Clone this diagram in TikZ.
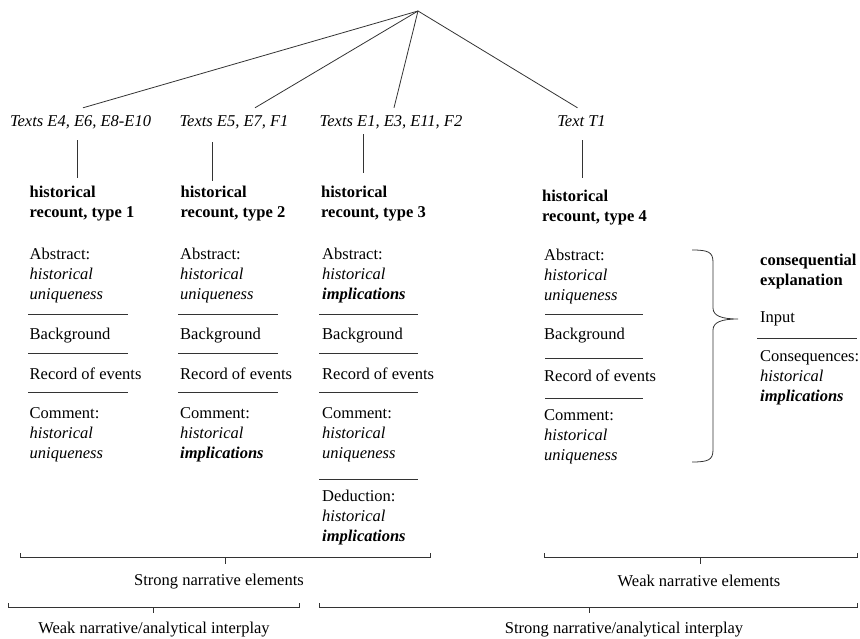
\documentclass[tikz,border=0pt]{standalone}
\usepackage{fontspec}
\setmainfont{Liberation Serif}
\begin{document}
\begin{tikzpicture}[x=1pt,y=-1pt,
  every node/.style={font=\fontsize{16.5}{20}\selectfont, inner sep=0pt},
  rule/.style={line width=0.8pt, draw=black!80},
  textlabel/.style={font=\fontsize{16.5}{20}\selectfont\itshape,
    text height=11pt, text depth=3pt, inner ysep=8pt, inner xsep=0pt},
  block/.style={anchor=north west, align=left},
  title/.style={block, font=\fontsize{16.5}{20}\selectfont\bfseries},
  caption/.style={anchor=center}]

\useasboundingbox (0,0) rectangle (860,639);

% root of the fan and the four text groups
\coordinate (apex) at (418,11);
\node[textlabel] (lbl1) at (80.5,123) {Texts E4, E6, E8-E10};
\node[textlabel] (lbl2) at (234,123) {Texts E5, E7, F1};
\node[textlabel] (lbl3) at (391,123) {Texts E1, E3, E11, F2};
\node[textlabel] (lbl4) at (581.5,123) {Text T1};

\draw[rule] (apex) -- ([xshift=2.5pt]lbl1.north);
\draw[rule] (apex) -- ([xshift=21pt]lbl2.north);
\draw[rule] (apex) -- ([xshift=3pt]lbl3.north);
\draw[rule] (apex) -- ([xshift=-4pt]lbl4.north);

\draw[rule] ([xshift=-3.5pt,yshift=-2pt]lbl1.south) -- ++(0,38);
\draw[rule] ([xshift=-22pt,yshift=-4pt]lbl2.south) -- ++(0,39);
\draw[rule] ([xshift=-28pt,yshift=4pt]lbl3.south) -- ++(0,39);
\draw[rule] ([xshift=0.5pt,yshift=-2pt]lbl4.south) -- ++(0,38);

% type 1
\node[title] (t1) at (29.5,185.5) {historical\\recount, type 1};
\node[block] (a1) at (29.5,247.5) {Abstract:\\\textit{historical}\\\textit{uniqueness}};
\draw[rule] (28,314) -- (128,314);
\node[block] (b1) at (29.5,327.5) {Background};
\draw[rule] (28,353) -- (128,353);
\node[block] (r1) at (29.5,367.5) {Record of events};
\draw[rule] (28,392) -- (128,392);
\node[block] (c1) at (29.5,407.5) {Comment:\\\textit{historical}\\\textit{uniqueness}};

% type 2
\node[title] (t2) at (180.5,185.5) {historical\\recount, type 2};
\node[block] (a2) at (180,247.5) {Abstract:\\\textit{historical}\\\textit{uniqueness}};
\draw[rule] (178,314) -- (278,314);
\node[block] (b2) at (180,327.5) {Background};
\draw[rule] (178,353) -- (278,353);
\node[block] (r2) at (180,367.5) {Record of events};
\draw[rule] (178,392) -- (278,392);
\node[block] (c2) at (180,407.5) {Comment:\\\textit{historical}\\\textbf{\textit{implications}}};

% type 3
\node[title] (t3) at (321,185.5) {historical\\recount, type 3};
\node[block] (a3) at (322,247.5) {Abstract:\\\textit{historical}\\\textbf{\textit{implications}}};
\draw[rule] (319,314) -- (418,314);
\node[block] (b3) at (322,327.5) {Background};
\draw[rule] (319,353) -- (418,353);
\node[block] (r3) at (322,367.5) {Record of events};
\draw[rule] (319,392) -- (418,392);
\node[block] (c3) at (322,407.5) {Comment:\\\textit{historical}\\\textit{uniqueness}};
\draw[rule] (319,479) -- (418,479);
\node[block] (d3) at (322,489.5) {Deduction:\\\textit{historical}\\\textbf{\textit{implications}}};

% type 4
\node[title] (t4) at (542,189.5) {historical\\recount, type 4};
\node[block] (a4) at (544,248.5) {Abstract:\\\textit{historical}\\\textit{uniqueness}};
\draw[rule] (545,314) -- (643,314);
\node[block] (b4) at (544,327.5) {Background};
\draw[rule] (545,358) -- (643,358);
\node[block] (r4) at (544,369.5) {Record of events};
\draw[rule] (545,398) -- (643,398);
\node[block] (c4) at (544,409.5) {Comment:\\\textit{historical}\\\textit{uniqueness}};

% brace gathering type 4 into the consequential explanation
\draw[rule] (692,250) .. controls (708,250) and (713,252) .. (713,262)
  -- (713,308) .. controls (713,316) and (722,319) .. (738,319)
  .. controls (722,319) and (713,322) .. (713,330)
  -- (713,450) .. controls (713,460) and (708,462) .. (692,462);

\node[title] (ce) at (760,253.5) {consequential\\explanation};
\node[block] (in) at (760,311.5) {Input};
\draw[rule] (757,338) -- (857,338);
\node[block] (cq) at (760,350.5) {Consequences:\\\textit{historical}\\\textbf{\textit{implications}}};

% grouping brackets at the foot
\draw[rule] (20,553) -- (20,557) -- (430,557) -- (430,553);
\draw[rule] (225,557) -- (225,564);
\node[caption] (sne) at (219,582) {Strong narrative elements};

\draw[rule] (544,553) -- (544,557) -- (857,557) -- (857,553);
\draw[rule] (700,557) -- (700,564);
\node[caption] (wne) at (699,581) {Weak narrative elements};

\draw[rule] (8,603) -- (8,607) -- (299,607) -- (299,603);
\draw[rule] (153,607) -- (153,613);
\node[caption] (wai) at (154,630) {Weak narrative/analytical interplay};

\draw[rule] (319,603) -- (319,607) -- (857,607) -- (857,603);
\draw[rule] (589,607) -- (589,613);
\node[caption] (sai) at (624,630) {Strong narrative/analytical interplay};

\end{tikzpicture}
\end{document}
